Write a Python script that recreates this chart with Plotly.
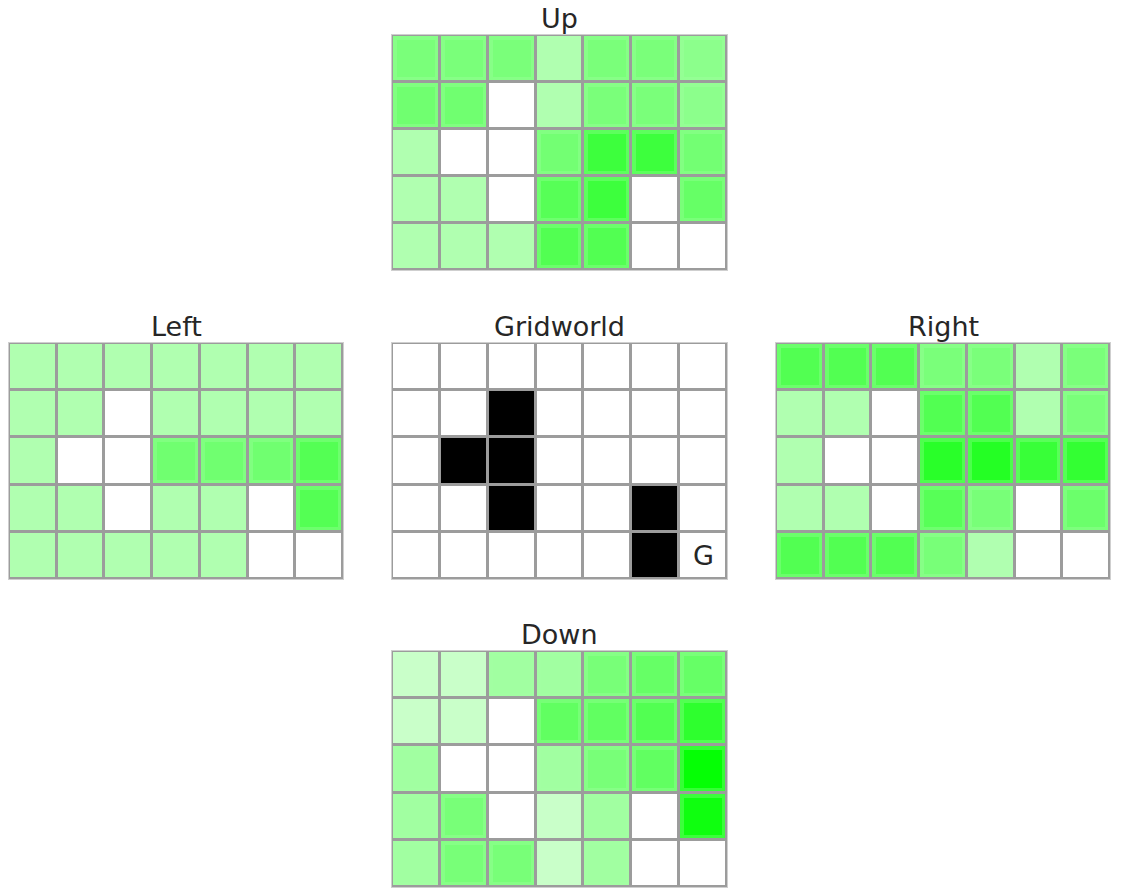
import plotly.graph_objects as go

# ---- data -------------------------------------------------------------
COLS = [0, 1, 2, 3, 4, 5, 6]
ROWS = [0, 1, 2, 3, 4]
TITLES = ["Up", "Left", "Gridworld", "Right", "Down"]

# green intensity of each cell (0 = white); rows top -> bottom
UP = [
    [0.52, 0.52, 0.52, 0.31, 0.52, 0.52, 0.45],
    [0.56, 0.56, 0.00, 0.31, 0.52, 0.52, 0.45],
    [0.31, 0.00, 0.00, 0.55, 0.76, 0.76, 0.55],
    [0.31, 0.31, 0.00, 0.66, 0.76, 0.00, 0.60],
    [0.31, 0.31, 0.31, 0.68, 0.68, 0.00, 0.00],
]
LEFT = [
    [0.31, 0.31, 0.31, 0.31, 0.31, 0.31, 0.31],
    [0.31, 0.31, 0.00, 0.31, 0.31, 0.31, 0.31],
    [0.31, 0.00, 0.00, 0.56, 0.56, 0.56, 0.67],
    [0.31, 0.31, 0.00, 0.31, 0.31, 0.00, 0.67],
    [0.31, 0.31, 0.31, 0.31, 0.31, 0.00, 0.00],
]
RIGHT = [
    [0.68, 0.68, 0.68, 0.52, 0.52, 0.31, 0.52],
    [0.31, 0.31, 0.00, 0.68, 0.68, 0.31, 0.52],
    [0.31, 0.00, 0.00, 0.84, 0.86, 0.78, 0.80],
    [0.31, 0.31, 0.00, 0.66, 0.53, 0.00, 0.58],
    [0.68, 0.68, 0.68, 0.53, 0.31, 0.00, 0.00],
]
DOWN = [
    [0.21, 0.21, 0.37, 0.37, 0.53, 0.60, 0.60],
    [0.21, 0.21, 0.00, 0.62, 0.62, 0.68, 0.82],
    [0.37, 0.00, 0.00, 0.37, 0.53, 0.62, 0.98],
    [0.37, 0.53, 0.00, 0.21, 0.37, 0.00, 0.94],
    [0.37, 0.53, 0.53, 0.21, 0.37, 0.00, 0.00],
]
# gridworld: 1 = wall (black), 0 = free
WORLD = [
    [0, 0, 0, 0, 0, 0, 0],
    [0, 0, 1, 0, 0, 0, 0],
    [0, 1, 1, 0, 0, 0, 0],
    [0, 0, 1, 0, 0, 1, 0],
    [0, 0, 0, 0, 0, 1, 0],
]
GOAL_LABEL = "G"
GOAL_ROW, GOAL_COL = 4, 6

# ---- layout geometry (page pixels) -------------------------------------
W, H = 1121, 896
PANELS = {
    "Up":        (392, 727, 35, 270),
    "Left":      (9, 343, 343, 579),
    "Gridworld": (392, 727, 343, 579),
    "Right":     (776, 1110, 343, 579),
    "Down":      (392, 727, 651, 887),
}
VALUES = {"Up": UP, "Left": LEFT, "Right": RIGHT, "Down": DOWN}

GREEN_SCALE = [[0.0, "#ffffff"], [1.0, "#00ff00"]]
WORLD_SCALE = [[0.0, "#ffffff"], [1.0, "#000000"]]
TXT = "#262626"
FONT = "DejaVu Sans, Liberation Sans, sans-serif"


def rim(v):
    return v if v <= 0.35 else 0.35 + 0.7 * (v - 0.35)


def px(x):
    return x / W


def py(y):
    return 1 - y / H


fig = go.Figure()
layout_axes = {}
annotations = []

for i, name in enumerate(TITLES):
    k = i + 1
    xa = "x" if k == 1 else f"x{k}"
    ya = "y" if k == 1 else f"y{k}"
    x0, x1, y0, y1 = PANELS[name]
    layout_axes["xaxis" if k == 1 else f"xaxis{k}"] = dict(
        domain=[px(x0), px(x1)], range=[-0.5, 6.5], anchor=ya,
        showgrid=False, zeroline=False, showticklabels=False, ticks="",
        showline=True, mirror=True, linecolor="#cfcfcf", linewidth=1,
        fixedrange=True,
    )
    layout_axes["yaxis" if k == 1 else f"yaxis{k}"] = dict(
        domain=[py(y1), py(y0)], range=[4.5, -0.5], anchor=xa,
        showgrid=False, zeroline=False, showticklabels=False, ticks="",
        showline=True, mirror=True, linecolor="#cfcfcf", linewidth=1,
        fixedrange=True,
    )
    if name == "Gridworld":
        fig.add_trace(go.Heatmap(
            z=WORLD, x=COLS, y=ROWS, colorscale=WORLD_SCALE, zmin=0, zmax=1,
            showscale=False, xgap=3, ygap=3, xaxis=xa, yaxis=ya,
            hoverinfo="skip",
        ))
        annotations.append(dict(
            x=GOAL_COL, y=GOAL_ROW, xref=xa, yref=ya, text=GOAL_LABEL,
            showarrow=False, font=dict(family=FONT, size=27, color=TXT),
        ))
    else:
        vals = VALUES[name]
        rims = [[rim(v) for v in row] for row in vals]
        fig.add_trace(go.Heatmap(
            z=rims, x=COLS, y=ROWS, colorscale=GREEN_SCALE, zmin=0, zmax=1,
            showscale=False, xgap=3, ygap=3, xaxis=xa, yaxis=ya,
            hoverinfo="skip",
        ))
        fig.add_trace(go.Heatmap(
            z=vals, x=COLS, y=ROWS, colorscale=GREEN_SCALE, zmin=0, zmax=1,
            showscale=False, xgap=10, ygap=10, xaxis=xa, yaxis=ya,
            hoverinfo="skip",
        ))
    annotations.append(dict(
        x=(px(x0) + px(x1)) / 2, y=py(y0), xref="paper", yref="paper",
        text=name, showarrow=False, xanchor="center", yanchor="middle",
        yshift=17, borderpad=0, font=dict(family=FONT, size=27, color=TXT),
    ))

fig.update_layout(
    width=W, height=H,
    margin=dict(l=0, r=0, t=0, b=0),
    paper_bgcolor="#ffffff",
    plot_bgcolor="#9c9c9c",
    showlegend=False,
    annotations=annotations,
    **layout_axes,
)

fig.write_html(
    "out.html",
    config={"displayModeBar": False},
    post_script="document.body.style.margin='0';document.body.style.overflow='hidden';",
)
